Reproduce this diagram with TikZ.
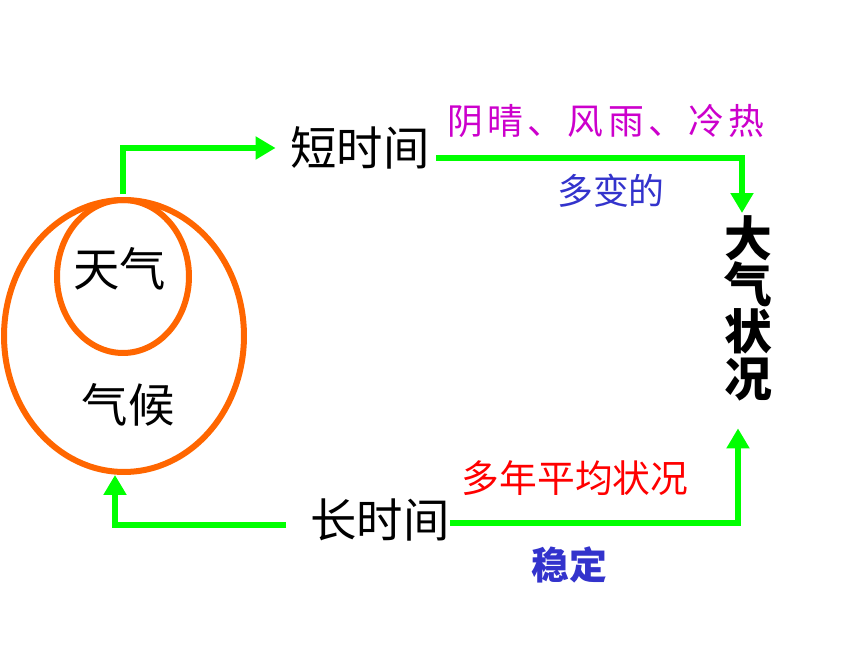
\documentclass[tikz,border=0pt]{standalone}
\usepackage{fontspec}
\setmainfont{Noto Sans CJK SC}
\usetikzlibrary{arrows.meta,shapes.geometric}
\definecolor{ringorange}{RGB}{255,102,0}
\definecolor{linkgreen}{RGB}{0,255,0}
\definecolor{notemagenta}{RGB}{204,0,204}
\definecolor{noteblue}{RGB}{51,51,204}
\begin{document}
\begin{tikzpicture}[x=0.02cm,y=-0.02cm,ring/.style={ellipse,draw=ringorange,line width=0.12cm,inner sep=0},link/.style={draw=linkgreen,line width=0.12cm,-{Triangle[length=0.4cm,width=0.44cm]}},term/.style={inner sep=0,font=\fontsize{26.4pt}{26.4pt}\selectfont},note/.style={inner sep=0,font=\fontsize{20.4pt}{20.4pt}\selectfont}]
\useasboundingbox (0,0) rectangle (860,645);

% Nodes
\node[ring,minimum width=4.8cm,minimum height=5.44cm] (qh) at (124,336) {};
\node[ring,minimum width=2.64cm,minimum height=3.06cm] (tq) at (123,276.5) {};
\node[term] (tqt) at (120,269) {天气};
\node[term] (qht) at (128,405) {气候};
\node[term] (dsj) at (360,148) {短时间};
\node[term] (csj) at (380,519.5) {长时间};
\node[inner sep=0,align=center,anchor=north,font=\fontsize{27.2pt}{26.6pt}\selectfont\bfseries] (dq) at (748,215) {大\\气\\状\\况};
\node[note,text=notemagenta,font=\fontsize{20.4pt}{20.4pt}\selectfont\addfontfeature{LetterSpace=12}] (yq) at (606,121) {阴晴、风雨、冷热};
\node[note,text=noteblue] (dbd) at (611,191) {多变的};
\node[note,text=red,font=\fontsize{21.5pt}{21.5pt}\selectfont] (dnp) at (575,478) {多年平均状况};
\node[note,text=noteblue,font=\fontsize{21.5pt}{21.5pt}\selectfont\bfseries] (wd) at (569,565) {稳定};

%arcs
\draw[link,shorten <=0.06cm] (tq.north) |- ([xshift=-0.29cm]dsj.west);
\draw[link] ([xshift=0.13cm,yshift=-0.2cm]dsj.east) -| ([xshift=-0.12cm,yshift=0.04cm]dq.north);
\draw[link] ([yshift=-0.07cm]csj.east) -| ([xshift=-0.2cm,yshift=-0.54cm]dq.south);
\draw[link] ([xshift=-0.48cm,yshift=-0.11cm]csj.west) -| ([xshift=-0.18cm]qh.south);

\end{tikzpicture}
\end{document}
